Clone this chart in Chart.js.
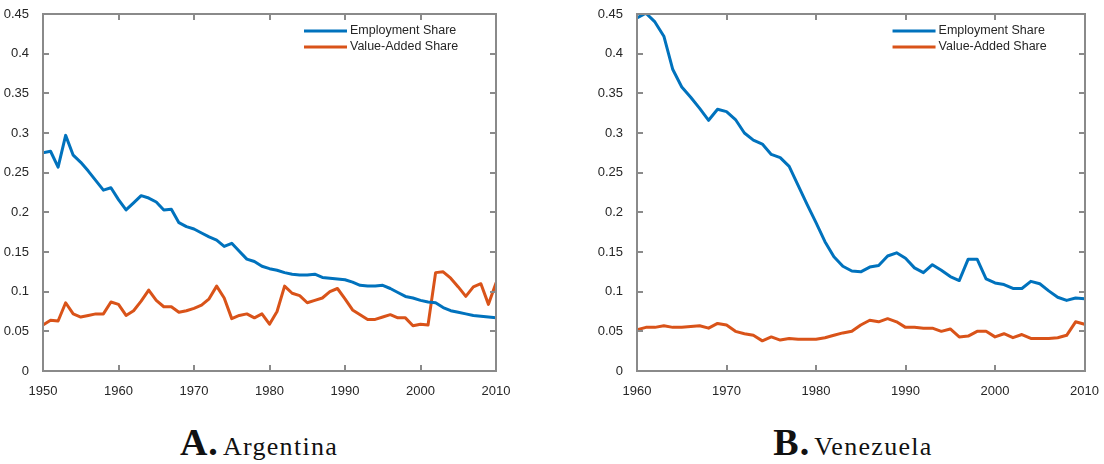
<!DOCTYPE html>
<html>
<head>
<meta charset="utf-8">
<script src="https://cdn.jsdelivr.net/npm/chart.js@4/dist/chart.umd.min.js"></script>
<style>
    html, body { margin: 0; padding: 0; background: #fff; }
    body { width: 1104px; height: 464px; position: relative; overflow: hidden; }
    canvas { position: absolute; top: 0; }
    #chart-arg { left: 0; }
    #chart-ven { left: 594px; }
    .caption {
        position: absolute; top: 420px; width: 400px; text-align: center;
        font-family: "Liberation Serif", "DejaVu Serif", serif; color: #111;
        white-space: nowrap;
    }
    .caption b { font-size: 38px; letter-spacing: 1px; }
    .caption span { font-size: 26px; letter-spacing: 1.3px; }
</style>
</head>
<body>
<canvas id="chart-arg" width="520" height="400"></canvas>
<canvas id="chart-ven" width="510" height="400"></canvas>
<div class="caption" style="left:59px"><b>A.</b> <span>Argentina</span></div>
<div class="caption" style="left:653px"><b>B.</b> <span>Venezuela</span></div>
<script>
const seriesLabels = ['Employment Share', 'Value-Added Share'];
const seriesColors = ['#0072BD', '#D95319'];

const argYears = [1950, 1951, 1952, 1953, 1954, 1955, 1956, 1957, 1958, 1959,
    1960, 1961, 1962, 1963, 1964, 1965, 1966, 1967, 1968, 1969,
    1970, 1971, 1972, 1973, 1974, 1975, 1976, 1977, 1978, 1979,
    1980, 1981, 1982, 1983, 1984, 1985, 1986, 1987, 1988, 1989,
    1990, 1991, 1992, 1993, 1994, 1995, 1996, 1997, 1998, 1999,
    2000, 2001, 2002, 2003, 2004, 2005, 2006, 2007, 2008, 2009, 2010];
const argEmployment = [0.275, 0.277, 0.257, 0.297, 0.272, 0.263, 0.252, 0.240, 0.228, 0.231,
    0.216, 0.203, 0.212, 0.221, 0.218, 0.213, 0.203, 0.204, 0.187, 0.182,
    0.179, 0.174, 0.169, 0.165, 0.157, 0.161, 0.151, 0.141, 0.138, 0.132,
    0.129, 0.127, 0.124, 0.122, 0.121, 0.121, 0.122, 0.118, 0.117, 0.116,
    0.115, 0.112, 0.108, 0.107, 0.107, 0.108, 0.104, 0.099, 0.094, 0.092,
    0.089, 0.087, 0.086, 0.080, 0.076, 0.074, 0.072, 0.070, 0.069, 0.068, 0.067];
const argValueAdded = [0.058, 0.064, 0.063, 0.086, 0.072, 0.068, 0.070, 0.072, 0.072, 0.087,
    0.084, 0.070, 0.076, 0.088, 0.102, 0.089, 0.081, 0.081, 0.074, 0.076,
    0.079, 0.083, 0.091, 0.107, 0.092, 0.066, 0.070, 0.072, 0.067, 0.072,
    0.059, 0.075, 0.107, 0.098, 0.095, 0.086, 0.089, 0.092, 0.100, 0.104,
    0.091, 0.077, 0.071, 0.065, 0.065, 0.068, 0.071, 0.067, 0.067, 0.057,
    0.059, 0.058, 0.124, 0.125, 0.117, 0.106, 0.094, 0.106, 0.110, 0.084, 0.111];

const venYears = [1960, 1961, 1962, 1963, 1964, 1965, 1966, 1967, 1968, 1969,
    1970, 1971, 1972, 1973, 1974, 1975, 1976, 1977, 1978, 1979,
    1980, 1981, 1982, 1983, 1984, 1985, 1986, 1987, 1988, 1989,
    1990, 1991, 1992, 1993, 1994, 1995, 1996, 1997, 1998, 1999,
    2000, 2001, 2002, 2003, 2004, 2005, 2006, 2007, 2008, 2009, 2010];
const venEmployment = [0.445, 0.451, 0.440, 0.422, 0.380, 0.358, 0.345, 0.331, 0.316, 0.330,
    0.327, 0.317, 0.300, 0.291, 0.286, 0.273, 0.269, 0.258, 0.234, 0.210,
    0.187, 0.163, 0.144, 0.132, 0.126, 0.125, 0.131, 0.133, 0.145, 0.149,
    0.142, 0.130, 0.124, 0.134, 0.127, 0.119, 0.114, 0.141, 0.141, 0.116,
    0.111, 0.109, 0.104, 0.104, 0.113, 0.110, 0.101, 0.093, 0.089, 0.092, 0.091];
const venValueAdded = [0.052, 0.055, 0.055, 0.057, 0.055, 0.055, 0.056, 0.057, 0.054, 0.060,
    0.058, 0.050, 0.047, 0.045, 0.038, 0.043, 0.039, 0.041, 0.040, 0.040,
    0.040, 0.042, 0.045, 0.048, 0.050, 0.058, 0.064, 0.062, 0.066, 0.062,
    0.055, 0.055, 0.054, 0.054, 0.050, 0.053, 0.043, 0.044, 0.050, 0.050,
    0.043, 0.047, 0.042, 0.046, 0.041, 0.041, 0.041, 0.042, 0.045, 0.062, 0.059];

const axisColor = '#8a8a8a';
const textColor = '#262626';

// box round the plot with inward ticks on all four sides, MATLAB style, plus the legend
const boxAxes = {
    id: 'boxAxes',
    afterDraw(chart) {
        const ctx = chart.ctx;
        const a = chart.chartArea;
        const xs = chart.scales.x, ys = chart.scales.y;
        const L = Math.round(a.left) - 1, R = Math.round(a.right) - 1;
        const T = Math.round(a.top) - 1, B = Math.round(a.bottom) - 1;
        ctx.save();
        ctx.fillStyle = axisColor;
        ctx.fillRect(L, T, R - L + 2, 2);
        ctx.fillRect(L, B, R - L + 2, 2);
        ctx.fillRect(L, T, 2, B - T + 2);
        ctx.fillRect(R, T, 2, B - T + 2);
        xs.ticks.forEach(t => {
            const px = Math.round(xs.getPixelForValue(t.value)) - 1;
            ctx.fillRect(px, B - 5, 2, 5);
            ctx.fillRect(px, T + 2, 2, 5);
        });
        ys.ticks.forEach(t => {
            const py = Math.round(ys.getPixelForValue(t.value)) - 1;
            ctx.fillRect(L + 2, py, 5, 2);
            ctx.fillRect(R - 5, py, 5, 2);
        });

        ctx.font = '12.5px "Liberation Sans", Arial, sans-serif';
        ctx.textBaseline = 'middle';
        ctx.fillStyle = textColor;
        chart.data.datasets.forEach((ds, i) => {
            const y = a.top + 17 + i * 16;
            ctx.strokeStyle = ds.borderColor;
            ctx.lineWidth = 3;
            ctx.beginPath();
            ctx.moveTo(a.right - 192, y);
            ctx.lineTo(a.right - 149, y);
            ctx.stroke();
            ctx.fillText(ds.label, a.right - 146, y);
        });
        ctx.restore();
    }
};

function makeChart(canvasId, years, employment, valueAdded, padRight) {
    const tickFont = { family: '"Liberation Sans", Arial, sans-serif', size: 13 };
    return new Chart(document.getElementById(canvasId), {
        type: 'line',
        data: {
            labels: years,
            datasets: [
                { label: seriesLabels[0], data: employment, borderColor: seriesColors[0] },
                { label: seriesLabels[1], data: valueAdded, borderColor: seriesColors[1] }
            ]
        },
        options: {
            responsive: false,
            animation: false,
            devicePixelRatio: 1,
            layout: { padding: { top: 14, right: padRight, left: 0, bottom: 0 } },
            elements: {
                line: { borderWidth: 3, tension: 0, borderJoinStyle: 'round', borderCapStyle: 'round' },
                point: { radius: 0 }
            },
            scales: {
                x: {
                    type: 'linear',
                    min: years[0],
                    max: 2010,
                    grid: { display: false },
                    border: { display: false },
                    ticks: {
                        stepSize: 10,
                        color: textColor,
                        font: tickFont,
                        padding: 5,
                        maxRotation: 0,
                        callback: v => String(v)
                    },
                    afterFit: s => { s.height = 29; }
                },
                y: {
                    min: 0,
                    max: 0.45,
                    grid: { display: false },
                    border: { display: false },
                    ticks: {
                        stepSize: 0.05,
                        color: textColor,
                        font: tickFont,
                        padding: 6,
                        callback: v => String(+v.toFixed(2))
                    },
                    afterFit: s => { s.width = 43; }
                }
            },
            plugins: {
                legend: { display: false },
                tooltip: { enabled: false }
            }
        },
        plugins: [boxAxes]
    });
}

makeChart('chart-arg', argYears, argEmployment, argValueAdded, 24);
makeChart('chart-ven', venYears, venEmployment, venValueAdded, 15);
</script>
</body>
</html>
